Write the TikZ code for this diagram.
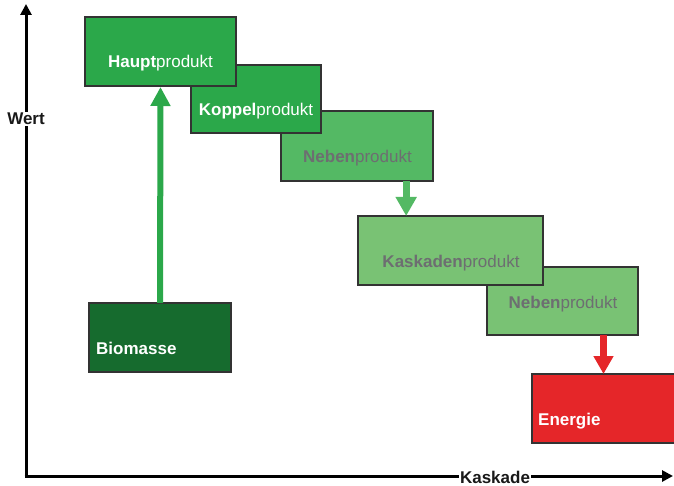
\documentclass[tikz,border=0pt]{standalone}
\usepackage{fontspec}
\setmainfont{Liberation Sans}
\usetikzlibrary{arrows.meta,calc}
\definecolor{gA}{HTML}{2BA84A}
\definecolor{gB}{HTML}{54B964}
\definecolor{gC}{HTML}{79C274}
\definecolor{gD}{HTML}{166B2E}
\definecolor{rE}{HTML}{E52629}
\definecolor{txg}{HTML}{6D6E71}
\definecolor{edge}{HTML}{333333}
\tikzset{
  box/.style={draw=edge, line width=1.2pt, anchor=north west, inner sep=0pt, outer sep=0pt},
  lbl/.style={anchor=base, inner sep=0pt, font=\fontsize{17}{20}\selectfont},
  axis/.style={line width=3pt, -{Triangle[width=11pt,length=11pt]}},
  axlbl/.style={fill=white, inner sep=1.5pt, font=\fontsize{17}{20}\selectfont\bfseries, text=black!90},
  flow/.style={line width=#1},
}
\begin{document}
\begin{tikzpicture}[x=1pt,y=-1pt]
\useasboundingbox[fill=white] (0,0) rectangle (674,486);
% boxes (back to front)
\node[box, fill=gC, minimum width=151pt, minimum height=68pt] (neben2) at (487,267) {};
\node[box, fill=gC, minimum width=185pt, minimum height=69pt] (kask) at (358,216) {};
\node[box, fill=gB, minimum width=152pt, minimum height=70pt] (neben1) at (281,111) {};
\node[box, fill=gA, minimum width=130pt, minimum height=68pt] (koppel) at (191,65) {};
\node[box, fill=gA, minimum width=151pt, minimum height=69pt] (haupt) at (85,17) {};
\node[box, fill=gD, minimum width=142pt, minimum height=69pt] (bio) at (89,303) {};
\node[box, fill=rE, minimum width=144pt, minimum height=69pt] (energie) at (532,374) {};
% labels
\node[lbl, text=white] (thaupt) at (160.5,68) {\textbf{Haupt}produkt};
\node[lbl, text=white] (tkoppel) at (256,116) {\textbf{Koppel}produkt};
\node[lbl, text=txg] (tneben1) at (357.5,163) {\textbf{Neben}produkt};
\node[lbl, text=txg] (tkask) at (451,267) {\textbf{Kaskaden}produkt};
\node[lbl, text=txg] (tneben2) at (563,308) {\textbf{Neben}produkt};
\node[lbl, text=white, anchor=base west] (tbio) at (96,354) {\textbf{Biomasse}};
\node[lbl, text=white, anchor=base west] (tenergie) at (538,425) {\textbf{Energie}};
% flow arrows
\draw[gA, line width=6pt, -{Triangle[width=19pt,length=19pt]}] (bio.north) -- ([yshift=-1pt]haupt.south);
\coordinate (n1out) at ($(neben1.south west)!0.8235!(neben1.south east)$);
\draw[gB, line width=7pt, -{Triangle[width=20pt,length=19pt]}] (n1out) -- (n1out |- kask.north);
\coordinate (n2out) at ($(neben2.south west)!0.7715!(neben2.south east)$);
\draw[rE, line width=7pt, -{Triangle[width=19pt,length=18pt]}] (n2out) -- (n2out |- energie.north);
% axes
\coordinate (O) at (26,476);
\coordinate (ytip) at (26,4);
\coordinate (xtip) at (673,476);
\draw[axis] ([yshift=1.5pt]O) -- (ytip);
\draw[axis] ([xshift=-1.5pt]O) -- (xtip);
\node[axlbl] (wert) at (26,119) {Wert};
\node[axlbl] (kaskade) at (495,477) {Kaskade};
\end{tikzpicture}
\end{document}
